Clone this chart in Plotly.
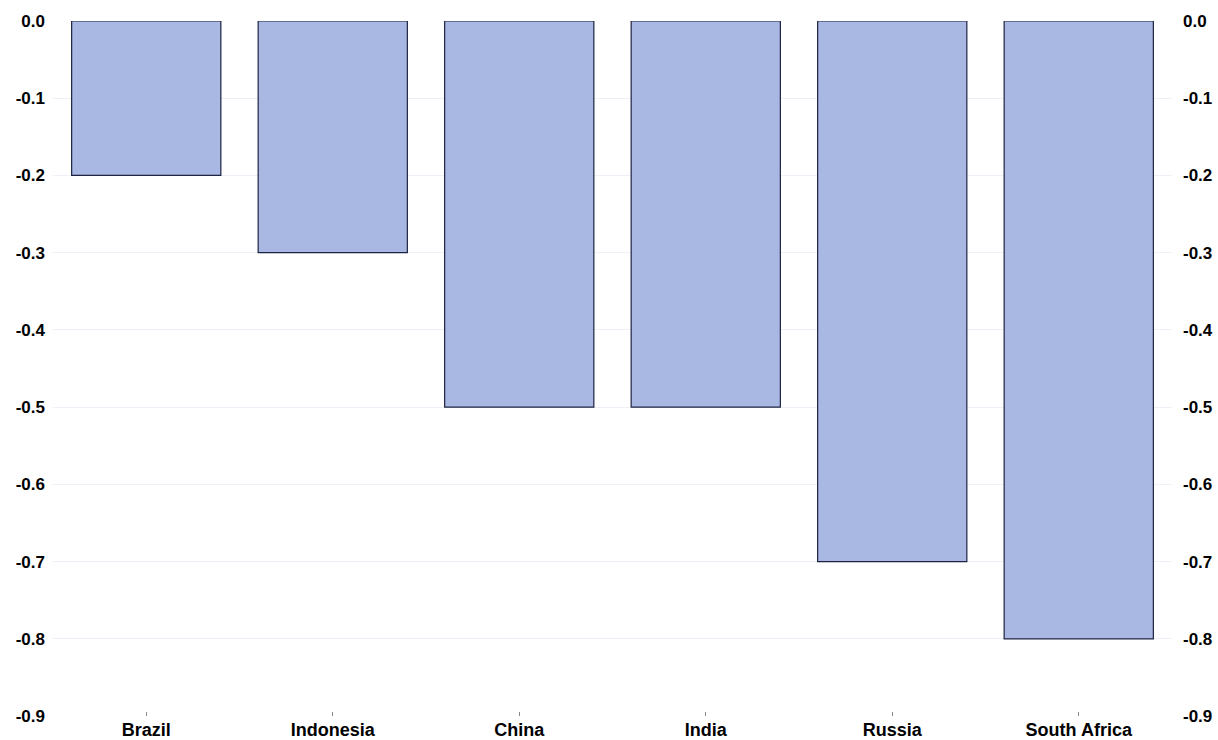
import plotly.graph_objects as go

countries = ["Brazil", "Indonesia", "China", "India", "Russia", "South Africa"]
values = [-0.2, -0.3, -0.5, -0.5, -0.7, -0.8]
y_ticks = [0.0, -0.1, -0.2, -0.3, -0.4, -0.5, -0.6, -0.7, -0.8, -0.9]
y_tick_text = [f"{v:.1f}" for v in y_ticks]

font_family = "Liberation Sans, Arial, sans-serif"
y_font = dict(family=font_family, size=17, color="#000000", weight="bold")
x_font = dict(family=font_family, size=18, color="#000000", weight="bold")

fig = go.Figure()
fig.add_trace(go.Bar(
    x=countries,
    y=values,
    marker=dict(color="#a8b8e2", line=dict(color="#1c2240", width=1.2)),
    showlegend=False,
))
# invisible trace to carry the mirrored right-hand axis
fig.add_trace(go.Scatter(x=countries, y=values, yaxis="y2", mode="markers",
                         marker=dict(opacity=0), showlegend=False, hoverinfo="skip"))

fig.update_layout(
    width=1218, height=740,
    margin=dict(l=53, r=46, t=21, b=24),
    paper_bgcolor="white", plot_bgcolor="white",
    bargap=0.2,
    xaxis=dict(
        automargin=False,
        tickfont=x_font,
        ticks="inside", ticklen=4, tickcolor="#888888", tickwidth=1,
        ticklabelstandoff=1,
        showgrid=False, showline=False, zeroline=False,
    ),
    yaxis=dict(
        automargin=False,
        range=[-0.9, 0.0],
        tickvals=y_ticks, ticktext=y_tick_text,
        tickfont=y_font, ticklabelstandoff=7,
        showgrid=True, gridcolor="#eef0f7", gridwidth=1,
        zeroline=False, showline=False, ticks="",
    ),
    yaxis2=dict(
        automargin=False,
        range=[-0.9, 0.0], overlaying="y", side="right",
        tickvals=y_ticks, ticktext=y_tick_text,
        tickfont=y_font, ticklabelstandoff=10,
        showgrid=False, zeroline=False, showline=False, ticks="",
    ),
)

fig.write_html("out.html")
